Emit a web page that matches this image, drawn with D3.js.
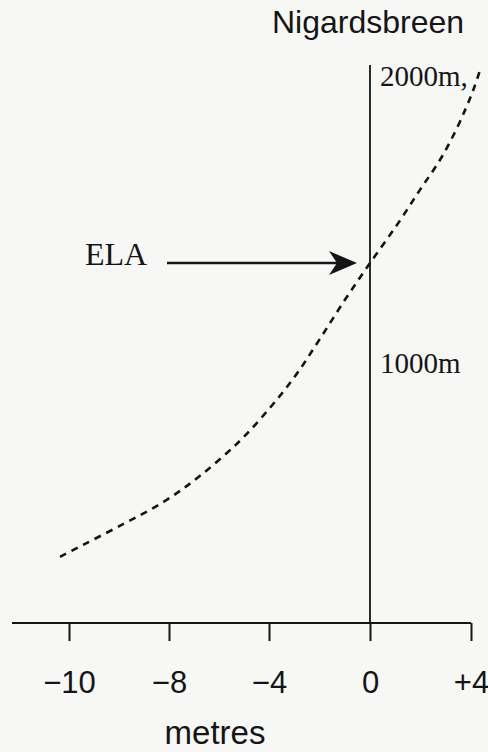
<!DOCTYPE html>
<html>
<head>
<meta charset="utf-8">
<script src="https://cdn.jsdelivr.net/npm/d3@7/dist/d3.min.js"></script>
<style>
  html, body { margin: 0; padding: 0; background: #f7f7f5; }
  svg { display: block; }
</style>
</head>
<body>
<svg id="chart" width="488" height="752"></svg>
<script>
// Mass balance profile with altitude, Nigardsbreen
const title = "Nigardsbreen";
const xLabel = "metres";
const xTicks = [-10, -8, -4, 0, 4];
const yLabels = [
  { value: 2000, text: "2000m," },
  { value: 1000, text: "1000m" }
];
// net balance (m) and elevation (m)
const balance   = [-10.18, -9.92, -8.92, -8.08, -6.77, -5.17, -3.90, -2.91, -1.99, -1.0, 0.0, 1.07, 1.98, 2.77, 3.37, 3.80, 4.12, 4.36];
const elevation = [326, 350, 440, 521, 608, 730, 852, 963, 1085, 1221, 1350, 1483, 1605, 1709, 1807, 1890, 1960, 2023];
const elaElevation = 1350;
const elaLabel = "ELA";

const svg = d3.select("#chart");
const ink = "#151515";
const sans = "'Liberation Sans', Arial, Helvetica, sans-serif";
const serif = "'Liberation Serif', 'Times New Roman', serif";

// broken horizontal scale: equal spacing between the labelled ticks
const x = d3.scaleLinear().domain(xTicks).range([69, 169, 269, 370, 471]);
const y = d3.scaleLinear().domain([0, 2000]).range([650.5, 76.5]);

const axisY = 623;
const axisLeft = 12;
const vTop = 65;

// horizontal axis line
svg.append("line")
  .attr("x1", axisLeft).attr("x2", x(4))
  .attr("y1", axisY).attr("y2", axisY)
  .attr("stroke", ink).attr("stroke-width", 2);

const fmt = d => d > 0 ? "+" + d : d < 0 ? "\u2212" + Math.abs(d) : "0";
const gx = svg.append("g")
  .attr("transform", `translate(0,${axisY})`)
  .call(d3.axisBottom(x).tickValues(xTicks).tickFormat(fmt).tickSize(18).tickPadding(0));
gx.select(".domain").remove();
gx.selectAll(".tick line").attr("stroke", ink).attr("stroke-width", 2);
gx.selectAll(".tick text")
  .attr("fill", ink)
  .attr("y", 70).attr("dy", 0)
  .style("font-family", sans).style("font-size", "31px");

// vertical axis at zero balance
svg.append("line")
  .attr("x1", x(0)).attr("x2", x(0))
  .attr("y1", vTop).attr("y2", axisY)
  .attr("stroke", ink).attr("stroke-width", 1.8);

svg.selectAll(".ylab").data(yLabels).enter().append("text")
  .attr("class", "ylab")
  .attr("x", x(0) + 10)
  .attr("y", d => y(d.value) + 9.5)
  .attr("fill", ink)
  .style("font-family", serif).style("font-size", "29px")
  .text(d => d.text);

// title and axis label
svg.append("text")
  .attr("x", x(0) - 2).attr("y", 33)
  .attr("text-anchor", "middle")
  .attr("fill", ink)
  .style("font-family", sans).style("font-size", "32px")
  .text(title);

svg.append("text")
  .attr("x", 215).attr("y", 744)
  .attr("text-anchor", "middle")
  .attr("fill", ink)
  .style("font-family", sans).style("font-size", "33px")
  .text(xLabel);

// balance profile
const pts = balance.map((b, i) => [b, elevation[i]]);
const line = d3.line()
  .x(d => x(d[0]))
  .y(d => y(d[1]))
  .curve(d3.curveCatmullRom.alpha(0.5));
svg.append("path")
  .attr("d", line(pts))
  .attr("fill", "none")
  .attr("stroke", ink)
  .attr("stroke-width", 2.6)
  .attr("stroke-dasharray", "7,6");

// ELA annotation
const ay = y(elaElevation);
const tipX = x(0) - 13;
svg.append("line")
  .attr("x1", 167).attr("x2", tipX - 18)
  .attr("y1", ay).attr("y2", ay)
  .attr("stroke", ink).attr("stroke-width", 2.5);
svg.append("path")
  .attr("d", `M${tipX},${ay} L${tipX - 28},${ay - 12} L${tipX - 20},${ay} L${tipX - 28},${ay + 12} Z`)
  .attr("fill", ink);
svg.append("text")
  .attr("x", 85).attr("y", ay + 2)
  .attr("fill", ink)
  .style("font-family", serif).style("font-size", "32px")
  .text(elaLabel);
</script>
</body>
</html>
